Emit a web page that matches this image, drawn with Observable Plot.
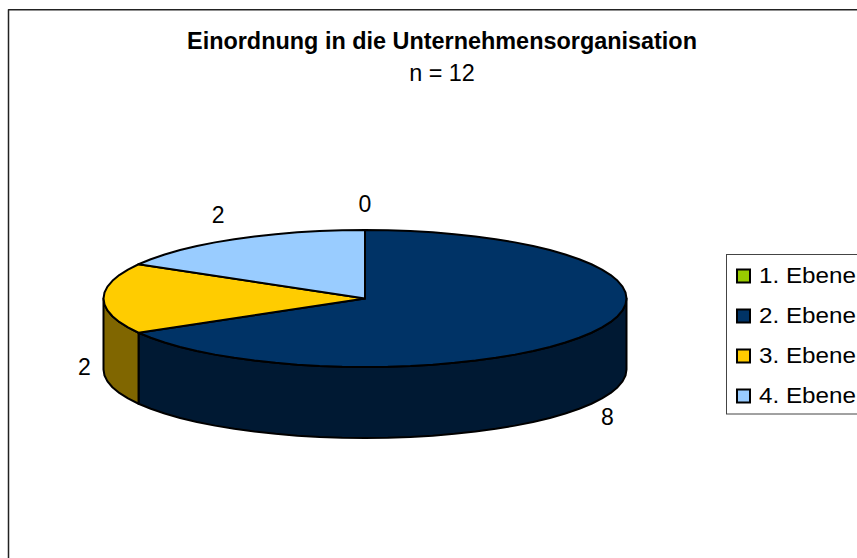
<!DOCTYPE html>
<html><head><meta charset="utf-8">
<script src="https://cdn.jsdelivr.net/npm/d3@7"></script>
<script src="https://cdn.jsdelivr.net/npm/@observablehq/plot@0.6"></script>
<style>html,body{margin:0;padding:0;background:#fff;overflow:hidden}svg{display:block}</style>
</head><body><div id="chart"></div>
<script>
const categories = ["1. Ebene", "2. Ebene", "3. Ebene", "4. Ebene"];
const values = [0, 8, 2, 2];
const topColors = ["#99CC00", "#003366", "#FFCC00", "#99CCFF"];
const sideColors = ["#4D6600", "#001933", "#806600", "#4D6680"];
const titleText = "Einordnung in die Unternehmensorganisation";
const subtitleText = "n = 12";
const labelOffsets = [[0, -25], [16, 14], [-19, -2], [-16, -24]];

const W = 857, H = 558;
const cx = 364.5, cy = 298, rx = 261.5, ry = 68.5, depth = 71;
const total = d3.sum(values);
let acc = 0;
const slices = categories.map((name, i) => {
  const a0 = acc / total * 360; acc += values[i];
  return {name, i, value: values[i], a0, a1: acc / total * 360};
});
const rad = a => a * Math.PI / 180;
const px = a => cx + rx * Math.sin(rad(a));
const py = a => cy - ry * Math.cos(rad(a));
const arc = (a0, a1) => {
  const n = Math.max(1, Math.ceil((a1 - a0) / 5));
  return d3.range(n + 1).map(k => a0 + (a1 - a0) * k / n);
};
const pt = (a, d = 0) => ({x: px(a), y: py(a) + d});

const marks = [];
// frame (runs off the right and bottom of the picture)
marks.push(Plot.line([{x: 8, y: H + 5}, {x: 8, y: 9.2}, {x: W + 5, y: 9.2}], {x: "x", y: "y", stroke: "#222", strokeWidth: 1.5}));

// side walls: only the front half, 90..270 degrees
for (const s of slices) {
  const a0 = Math.max(s.a0, 90), a1 = Math.min(s.a1, 270);
  if (a1 <= a0) continue;
  const as = arc(a0, a1);
  const poly = [...as.map(a => pt(a)), ...as.slice().reverse().map(a => pt(a, depth))];
  poly.push(poly[0]);
  marks.push(Plot.line(poly, {x: "x", y: "y", fill: sideColors[s.i], stroke: "black", strokeWidth: 2, strokeLinejoin: "round"}));
}
// top faces
for (const s of slices) {
  const poly = [{x: cx, y: cy}, ...arc(s.a0, s.a1).map(a => pt(a)), {x: cx, y: cy}];
  marks.push(Plot.line(poly, {x: "x", y: "y", fill: topColors[s.i], stroke: "black", strokeWidth: 2, strokeLinejoin: "round"}));
}
// value labels
slices.forEach((s, i) => {
  const mid = (s.a0 + s.a1) / 2;
  const wall = mid > 90 && mid <= 270 ? depth : 0;
  marks.push(Plot.text([s], {x: () => px(mid), y: () => py(mid) + wall, text: d => String(d.value),
    dx: labelOffsets[i][0], dy: labelOffsets[i][1], fontSize: 23, fill: "black"}));
});
// title
marks.push(Plot.text([titleText], {x: () => 441.5, y: () => 41, text: d => d, fontSize: 23, fontWeight: "bold", fill: "black", className: "stretch-title"}));
marks.push(Plot.text([subtitleText], {x: () => 441.5, y: () => 73, text: d => d, fontSize: 23, fill: "black", className: "stretch-title"}));
// legend
marks.push(Plot.rect([0], {x1: () => 726.5, x2: () => W + 10, y1: () => 254.5, y2: () => 414, fill: "white", stroke: "#444", strokeWidth: 1}));
marks.push(Plot.rect(categories, {x1: () => 737, x2: () => 750, y1: (d, i) => 269.5 + 40 * i, y2: (d, i) => 282.5 + 40 * i,
  fill: {value: (d, i) => topColors[i], scale: null}, stroke: "black", strokeWidth: 2}));
marks.push(Plot.text(categories, {x: () => 758.5, y: (d, i) => 275.5 + 40 * i, text: d => d, textAnchor: "start", fontSize: 22, fill: "black", className: "stretch-legend"}));

const chart = Plot.plot({
  width: W, height: H, margin: 0,
  style: {fontFamily: "'Liberation Sans', Arial, sans-serif", background: "white", overflow: "hidden"},
  x: {axis: null, domain: [0, W], range: [0, W]},
  y: {axis: null, domain: [0, H], range: [0, H]},
  marks
});
document.getElementById("chart").append(chart);
// the reference's text is slightly wider than the font's natural width
const stretch = (sel, f) => chart.querySelectorAll(sel + " text").forEach(t => {
  t.setAttribute("textLength", t.getComputedTextLength() * f);
  t.setAttribute("lengthAdjust", "spacingAndGlyphs");
});
stretch(".stretch-title", 1.018);
stretch(".stretch-legend", 1.1);
</script></body></html>
